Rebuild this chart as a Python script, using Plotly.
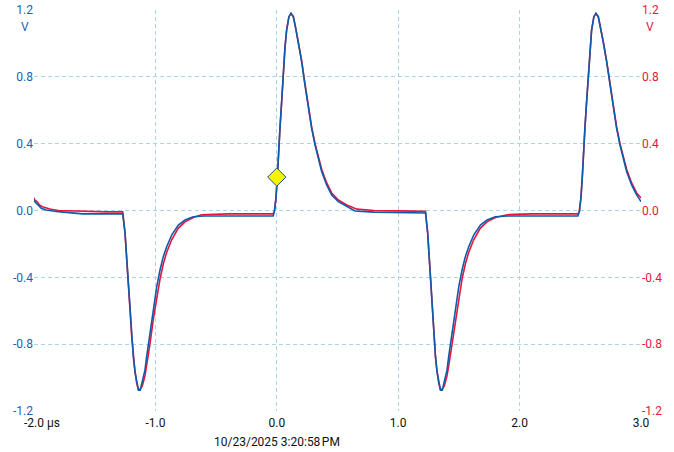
import plotly.graph_objects as go

# ---- data (time in µs, voltage in V) ----
blue_t = [-2.0, -1.99, -1.96, -1.94, -1.90, -1.80, -1.60, -1.40, -1.30, -1.269,
          -1.25, -1.236, -1.223, -1.209, -1.195, -1.182, -1.168, -1.154, -1.14, -1.125,
          -1.108, -1.086, -1.072, -1.045, -1.017, -0.989, -0.962, -0.935, -0.907, -0.866,
          -0.811, -0.756, -0.688, -0.6, -0.4, -0.2, -0.03, -0.02, -0.007, 0.004,
          0.012, 0.026, 0.040, 0.053, 0.067, 0.081, 0.100, 0.117, 0.136, 0.156,
          0.177, 0.205, 0.232, 0.260, 0.287, 0.315, 0.342, 0.370, 0.411, 0.452,
          0.507, 0.576, 0.644, 0.8, 1.0, 1.225,
          1.243, 1.256, 1.268, 1.281, 1.294, 1.307, 1.320, 1.334, 1.348, 1.363,
          1.380, 1.402, 1.416, 1.443, 1.471, 1.499, 1.526, 1.553, 1.581, 1.622,
          1.677, 1.732, 1.800, 1.9, 2.1, 2.3, 2.48, 2.492, 2.505, 2.516,
          2.524, 2.538, 2.552, 2.565, 2.579, 2.593, 2.612, 2.629, 2.648, 2.668,
          2.689, 2.717, 2.744, 2.772, 2.799, 2.827, 2.854, 2.882, 2.923, 2.964, 3.0]
blue_v = [0.065, 0.049, 0.029, 0.013, 0.003, -0.007, -0.02, -0.02, -0.021, -0.02,
          -0.136, -0.296, -0.416, -0.595, -0.755, -0.875, -0.965, -1.034, -1.075, -1.075,
          -1.03, -0.955, -0.875, -0.735, -0.576, -0.456, -0.356, -0.276, -0.217, -0.147,
          -0.087, -0.057, -0.037, -0.033, -0.033, -0.033, -0.033, -0.007, 0.073, 0.193,
          0.332, 0.492, 0.651, 0.811, 0.971, 1.08, 1.16, 1.18, 1.16, 1.09,
          1.01, 0.89, 0.751, 0.612, 0.492, 0.392, 0.312, 0.232, 0.153, 0.093,
          0.053, 0.023, -0.003, -0.01, -0.012, -0.015,
          -0.136, -0.296, -0.416, -0.595, -0.755, -0.875, -0.965, -1.034, -1.075, -1.075,
          -1.03, -0.955, -0.875, -0.735, -0.576, -0.456, -0.356, -0.276, -0.217, -0.147,
          -0.087, -0.057, -0.037, -0.033, -0.033, -0.033, -0.033, -0.007, 0.073, 0.193,
          0.332, 0.492, 0.651, 0.811, 0.971, 1.08, 1.16, 1.18, 1.16, 1.09,
          1.01, 0.89, 0.751, 0.612, 0.492, 0.392, 0.312, 0.232, 0.153, 0.093, 0.053]

red_t = [-2.0, -1.995, -1.975, -1.955, -1.93, -1.87, -1.80, -1.60, -1.40, -1.269,
         -1.25, -1.236, -1.223, -1.209, -1.195, -1.182, -1.168, -1.154, -1.14, -1.125,
         -1.108, -1.086, -1.072, -1.045, -1.017, -0.989, -0.962, -0.935, -0.907, -0.866,
         -0.811, -0.756, -0.688, -0.62, -0.4, -0.2, -0.03, -0.02, -0.007, 0.004,
         0.012, 0.026, 0.040, 0.053, 0.067, 0.081, 0.100, 0.117, 0.136, 0.156,
         0.177, 0.205, 0.232, 0.260, 0.287, 0.315, 0.342, 0.370, 0.411, 0.452,
         0.507, 0.576, 0.66, 0.8, 1.0, 1.225,
         1.243, 1.256, 1.268, 1.281, 1.294, 1.307, 1.320, 1.334, 1.348, 1.363,
         1.380, 1.402, 1.416, 1.443, 1.471, 1.499, 1.526, 1.553, 1.581, 1.622,
         1.677, 1.732, 1.800, 1.9, 2.1, 2.3, 2.48, 2.492, 2.505, 2.516,
         2.524, 2.538, 2.552, 2.565, 2.579, 2.593, 2.612, 2.629, 2.648, 2.668,
         2.689, 2.717, 2.744, 2.772, 2.799, 2.827, 2.854, 2.882, 2.923, 2.964, 3.0]
red_v = [0.077, 0.063, 0.053, 0.033, 0.023, 0.009, 0.0, -0.005, -0.008, -0.008,
         -0.136, -0.296, -0.416, -0.595, -0.755, -0.875, -0.965, -1.034, -1.07, -1.07,
         -1.05, -0.99, -0.93, -0.80, -0.65, -0.52, -0.41, -0.32, -0.25, -0.175,
         -0.105, -0.068, -0.042, -0.025, -0.02, -0.02, -0.02, -0.005, 0.073, 0.193,
         0.332, 0.492, 0.651, 0.811, 0.971, 1.08, 1.16, 1.18, 1.16, 1.09,
         1.01, 0.895, 0.76, 0.62, 0.50, 0.40, 0.32, 0.245, 0.165, 0.105,
         0.063, 0.033, 0.008, 0.0, -0.002, -0.005,
         -0.136, -0.296, -0.416, -0.595, -0.755, -0.875, -0.965, -1.034, -1.07, -1.07,
         -1.05, -0.99, -0.93, -0.80, -0.65, -0.52, -0.41, -0.32, -0.25, -0.175,
         -0.105, -0.068, -0.042, -0.025, -0.02, -0.02, -0.02, -0.005, 0.073, 0.193,
         0.332, 0.492, 0.651, 0.811, 0.971, 1.08, 1.16, 1.18, 1.16, 1.09,
         1.01, 0.895, 0.76, 0.62, 0.50, 0.40, 0.32, 0.245, 0.165, 0.105, 0.075]

x_ticks = [-2.0, -1.0, 0.0, 1.0, 2.0, 3.0]
x_tick_labels = ["-2.0", "-1.0", "0.0", "1.0", "2.0", "3.0"]
y_ticks = [-1.2, -0.8, -0.4, 0.0, 0.4, 0.8, 1.2]
y_tick_labels = ["-1.2", "-0.8", "-0.4", "0.0", "0.4", "0.8", "1.2"]
trigger_t = [0.0]
trigger_v = [0.2]
timestamp = "10/23/2025 3:20:58\u202fPM"

BLUE = "#0b5cab"
RED = "#e8143c"
LABEL_BLUE = "#1a5fb4"
GRID = "#a9d6e5"
FONT = "Roboto, Arial, sans-serif"

fig = go.Figure()
fig.add_trace(go.Scatter(x=red_t, y=red_v, mode="lines",
                         line=dict(color=RED, width=1.6), hoverinfo="skip"))
fig.add_trace(go.Scatter(x=blue_t, y=blue_v, mode="lines",
                         line=dict(color=BLUE, width=1.6), hoverinfo="skip"))
fig.add_trace(go.Scatter(x=trigger_t, y=trigger_v, mode="markers",
                         marker=dict(symbol="diamond", size=14, color="#f5f500",
                                     line=dict(color="#1f4f9a", width=1)),
                         hoverinfo="skip"))
# invisible trace for right axis
fig.add_trace(go.Scatter(x=[x_ticks[0]], y=[y_ticks[0]], yaxis="y2", mode="markers",
                         marker=dict(opacity=0), hoverinfo="skip"))

fig.update_layout(
    width=674, height=452,
    margin=dict(l=34, r=33, t=10, b=41),
    paper_bgcolor="white", plot_bgcolor="white",
    showlegend=False,
    font=dict(family=FONT, size=12, color="#111"),
    xaxis=dict(range=[-2.0, 3.0], tickvals=x_ticks, ticktext=x_tick_labels,
               showgrid=True, gridcolor=GRID, griddash="4px,3px", gridwidth=1,
               zeroline=False, showline=False, ticks="", automargin=False,
               ticklabelstandoff=3,
               tickfont=dict(size=12, color="#111")),
    yaxis=dict(range=[-1.2, 1.2], tickvals=y_ticks, ticktext=y_tick_labels,
               showgrid=True, gridcolor=GRID, griddash="4px,3px", gridwidth=1,
               zeroline=False, showline=False, ticks="", automargin=False,
               tickfont=dict(size=12, color=LABEL_BLUE)),
    yaxis2=dict(range=[-1.2, 1.2], tickvals=y_ticks, ticktext=y_tick_labels,
                overlaying="y", side="right", showgrid=False, zeroline=False,
                showline=False, ticks="", automargin=False,
                tickfont=dict(size=12, color=RED)),
    annotations=[
        dict(text="V", xref="paper", yref="paper", x=-3/607, y=1 - 17/401,
             xanchor="right", yanchor="middle", showarrow=False,
             font=dict(size=12, color=LABEL_BLUE)),
        dict(text="V", xref="paper", yref="paper", x=1 + 3/607, y=1 - 17/401,
             xanchor="left", yanchor="middle", showarrow=False,
             font=dict(size=12, color=RED)),
        dict(text="µs", xref="paper", yref="paper", x=11/607, y=-12/401,
             xanchor="left", yanchor="middle", showarrow=False,
             font=dict(size=12, color="#111")),
        dict(text=timestamp, xref="x", yref="paper", x=0.0, y=-31/401,
             xanchor="center", yanchor="middle", showarrow=False,
             font=dict(size=12, color="#111")),
    ],
)

fig.write_html("out.html", config={"displayModeBar": False},
               post_script="document.body.style.margin='0px';document.body.style.padding='0px';")
